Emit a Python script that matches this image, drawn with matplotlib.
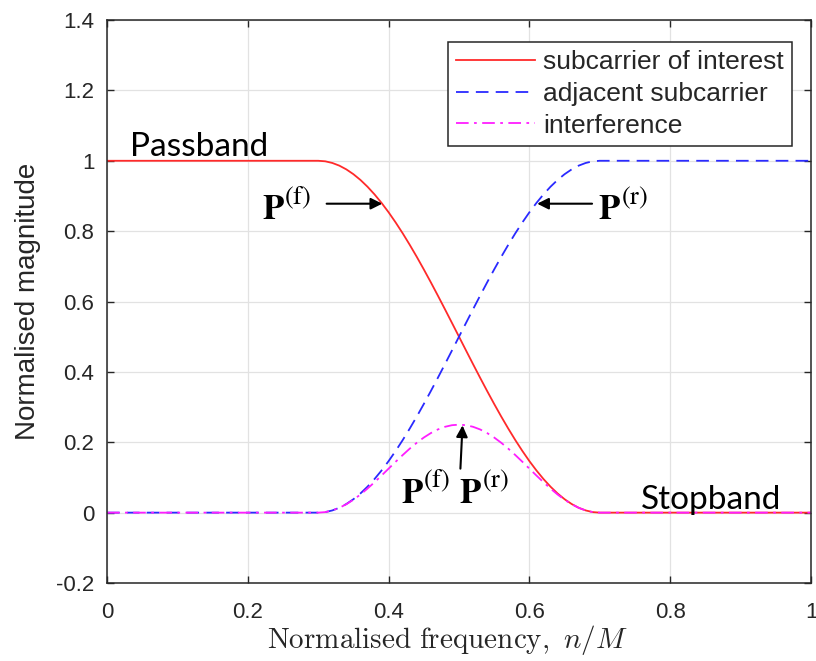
import matplotlib
matplotlib.use("Agg")
import matplotlib.pyplot as plt

# frequency axis (normalised, n/M) and the three responses
freq = [0.00, 0.30, 0.31, 0.32, 0.33, 0.34, 0.35, 0.36, 0.37, 0.38, 0.39, 0.40,
        0.41, 0.42, 0.43, 0.44, 0.45, 0.46, 0.47, 0.48, 0.49, 0.50,
        0.51, 0.52, 0.53, 0.54, 0.55, 0.56, 0.57, 0.58, 0.59, 0.60,
        0.61, 0.62, 0.63, 0.64, 0.65, 0.66, 0.67, 0.68, 0.69, 0.70, 1.00]
p_front = [1.0000, 1.0000, 0.9985, 0.9938, 0.9862, 0.9755, 0.9619, 0.9455, 0.9263, 0.9045, 0.8802, 0.8536,
           0.8247, 0.7939, 0.7612, 0.7270, 0.6913, 0.6545, 0.6167, 0.5782, 0.5392, 0.5000,
           0.4608, 0.4218, 0.3833, 0.3455, 0.3087, 0.2730, 0.2388, 0.2061, 0.1753, 0.1464,
           0.1198, 0.0955, 0.0737, 0.0545, 0.0381, 0.0245, 0.0138, 0.0062, 0.0015, 0.0000, 0.0000]
p_rear = [0.0000, 0.0000, 0.0015, 0.0062, 0.0138, 0.0245, 0.0381, 0.0545, 0.0737, 0.0955, 0.1198, 0.1464,
          0.1753, 0.2061, 0.2388, 0.2730, 0.3087, 0.3455, 0.3833, 0.4218, 0.4608, 0.5000,
          0.5392, 0.5782, 0.6167, 0.6545, 0.6913, 0.7270, 0.7612, 0.7939, 0.8247, 0.8536,
          0.8802, 0.9045, 0.9263, 0.9455, 0.9619, 0.9755, 0.9862, 0.9938, 0.9985, 1.0000, 1.0000]
interf = [0.0000, 0.0000, 0.0015, 0.0061, 0.0136, 0.0239, 0.0366, 0.0515, 0.0683, 0.0864, 0.1054, 0.1250,
          0.1446, 0.1636, 0.1818, 0.1985, 0.2134, 0.2261, 0.2364, 0.2439, 0.2485, 0.2500,
          0.2485, 0.2439, 0.2364, 0.2261, 0.2134, 0.1985, 0.1818, 0.1636, 0.1446, 0.1250,
          0.1054, 0.0864, 0.0683, 0.0515, 0.0366, 0.0239, 0.0136, 0.0061, 0.0015, 0.0000, 0.0000]

legend_labels = ["subcarrier of interest", "adjacent subcarrier", "interference"]
x_ticks = [0, 0.2, 0.4, 0.6, 0.8, 1]
x_ticklabels = ["0", "0.2", "0.4", "0.6", "0.8", "1"]
y_ticks = [-0.2, 0, 0.2, 0.4, 0.6, 0.8, 1, 1.2, 1.4]
y_ticklabels = ["-0.2", "0", "0.2", "0.4", "0.6", "0.8", "1", "1.2", "1.4"]

plt.rcParams['font.family'] = ['Liberation Sans', 'DejaVu Sans']
dark = '#262626'

fig = plt.figure(figsize=(8.16, 6.61), dpi=100)
ax = fig.add_axes([0.1311, 0.118, 0.8628, 0.8517])

ax.plot(freq, p_front, color='#ff2a2a', lw=1.3, ls='-', label=legend_labels[0])
ax.plot(freq, p_rear, color='#2a2aff', lw=1.3, ls=(0, (7, 4)), label=legend_labels[1])
ax.plot(freq, interf, color='#ff1eff', lw=1.3, ls=(0, (7, 3, 1.5, 3)), label=legend_labels[2])

ax.set_xlim(0, 1)
ax.set_ylim(-0.2, 1.4)
ax.set_xticks(x_ticks)
ax.set_xticklabels(x_ticklabels)
ax.set_yticks(y_ticks)
ax.set_yticklabels(y_ticklabels)
ax.grid(True, color='#e2e2e2', lw=0.9)
ax.set_axisbelow(True)
ax.tick_params(direction='in', length=5, width=1, colors=dark, labelsize=16,
               top=True, right=True)
ax.tick_params(axis='x', pad=14)
ax.tick_params(axis='y', pad=9)
for sp in ax.spines.values():
    sp.set_color(dark)
    sp.set_linewidth(1.1)

ax.set_ylabel("Normalised magnitude", fontsize=20, color=dark, labelpad=11)
ax.set_xlabel(r"$\mathrm{Normalised\ frequency,\ }n/M$", fontsize=21, color=dark,
              math_fontfamily='cm', va='center')
ax.xaxis.set_label_coords(0.483, -0.101)

leg = ax.legend(loc='upper right', bbox_to_anchor=(0.973, 0.961), fontsize=19,
                frameon=True, fancybox=False, framealpha=1, edgecolor=dark,
                handlelength=3.0, handletextpad=0.3, labelspacing=0.3,
                borderpad=0.3, borderaxespad=0)
leg.get_frame().set_linewidth(1.1)
for t in leg.get_texts():
    t.set_color(dark)

# band labels
ax.text(0.032, 1.0145, "Passband", fontsize=24, family='Lato', color='black')
ax.text(0.758, 0.011, "Stopband", fontsize=24, family='Lato', color='black')

# annotations with arrows: bold P with a raised, fairly large superscript
arrow = dict(arrowstyle='-|>', color='black', lw=1.5, mutation_scale=17, shrinkA=0, shrinkB=0)
P_main = r"$\mathbf{P}$"
sup_f = r"$(\mathrm{f})$"
sup_r = r"$(\mathrm{r})$"
big, small = 25, 19

ax.annotate("", xy=(0.391, 0.878), xytext=(0.312, 0.878), arrowprops=arrow)
ax.text(0.220, 0.835, P_main, fontsize=big, math_fontfamily='stix')
ax.text(0.252, 0.875, sup_f, fontsize=small, math_fontfamily='stix')

ax.annotate("", xy=(0.611, 0.878), xytext=(0.689, 0.878), arrowprops=arrow)
ax.text(0.698, 0.835, P_main, fontsize=big, math_fontfamily='stix')
ax.text(0.730, 0.875, sup_r, fontsize=small, math_fontfamily='stix')

ax.annotate("", xy=(0.505, 0.248), xytext=(0.502, 0.125), arrowprops=arrow)
ax.text(0.417, 0.028, P_main, fontsize=big, math_fontfamily='stix')
ax.text(0.449, 0.071, sup_f, fontsize=small, math_fontfamily='stix')
ax.text(0.500, 0.028, P_main, fontsize=big, math_fontfamily='stix')
ax.text(0.532, 0.071, sup_r, fontsize=small, math_fontfamily='stix')

fig.savefig("out.png", dpi=100)
